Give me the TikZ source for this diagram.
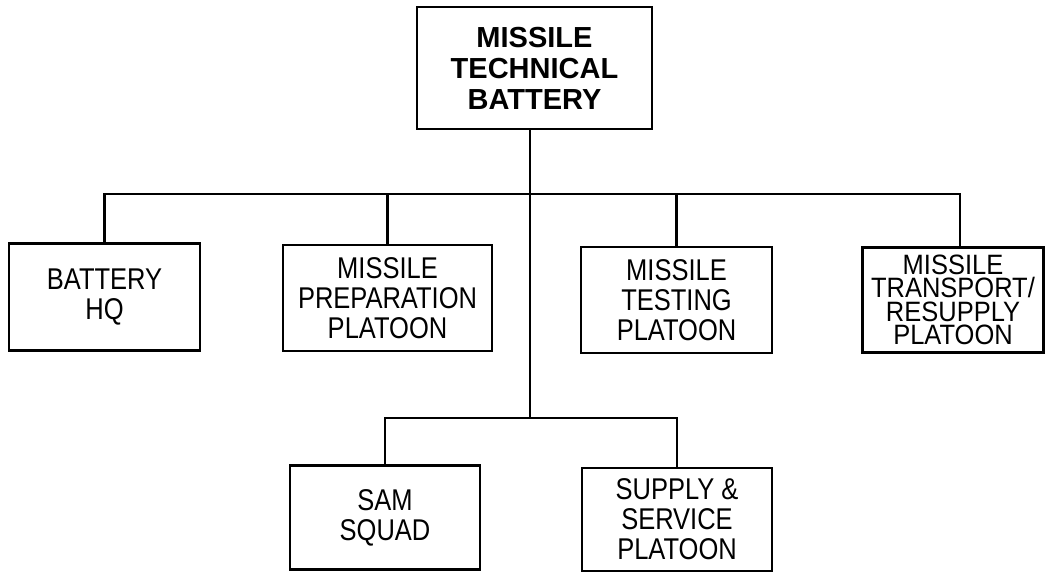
\documentclass[tikz,border=0pt]{standalone}
\usepackage{fontspec}
\setmainfont{Liberation Sans}
\newfontfamily\narrowfont[FakeStretch=0.85]{Liberation Sans}
\newfontfamily\transfont[FakeStretch=0.91]{Liberation Sans}
\begin{document}
\begin{tikzpicture}[x=1bp,y=-1bp,
  unitbox/.style={draw,line width=2.7bp,inner sep=0pt,align=center,
    font=\narrowfont\fontsize{30bp}{30bp}\selectfont},
  topbox/.style={unitbox,font=\bfseries\fontsize{29bp}{31bp}\selectfont},
  link/.style={line width=2.2bp}]
\useasboundingbox (0,0) rectangle (1046,573);
% boxes
\node[topbox,minimum width=235bp,minimum height=122bp] (top) at (534.5,68) {MISSILE\\TECHNICAL\\BATTERY};
\node[unitbox,minimum width=191bp,minimum height=107bp] (hq) at (104.5,297) {BATTERY\\HQ};
\node[unitbox,minimum width=209bp,minimum height=106bp] (prep) at (387.5,298) {MISSILE\\PREPARATION\\PLATOON};
\node[unitbox,minimum width=191bp,minimum height=106bp] (test) at (676.5,300) {MISSILE\\TESTING\\PLATOON};
\node[unitbox,minimum width=181bp,minimum height=105bp,
  font=\transfont\fontsize{28bp}{23.5bp}\selectfont] (trans) at (953,300) {MISSILE\\TRANSPORT/\\RESUPPLY\\PLATOON};
\node[unitbox,minimum width=190bp,minimum height=104bp] (sam) at (385,517.5) {SAM\\SQUAD};
\node[unitbox,minimum width=190bp,minimum height=103bp] (supply) at (677,519.5) {SUPPLY \&\\SERVICE\\PLATOON};
% bus coordinates
\coordinate (bus) at (530,194);
\coordinate (lowbus) at (530,418);
\coordinate (transdrop) at (960,194);
% connectors
\draw[link] (top.south -| bus) -- (lowbus);
\draw[link] (hq.north) |- (bus) -- (transdrop) -- (transdrop |- trans.north);
\draw[link] (prep.north) -- (prep.north |- bus);
\draw[link] (test.north) -- (test.north |- bus);
\draw[link] (sam.north) |- (lowbus) -| (supply.north);
\end{tikzpicture}
\end{document}
